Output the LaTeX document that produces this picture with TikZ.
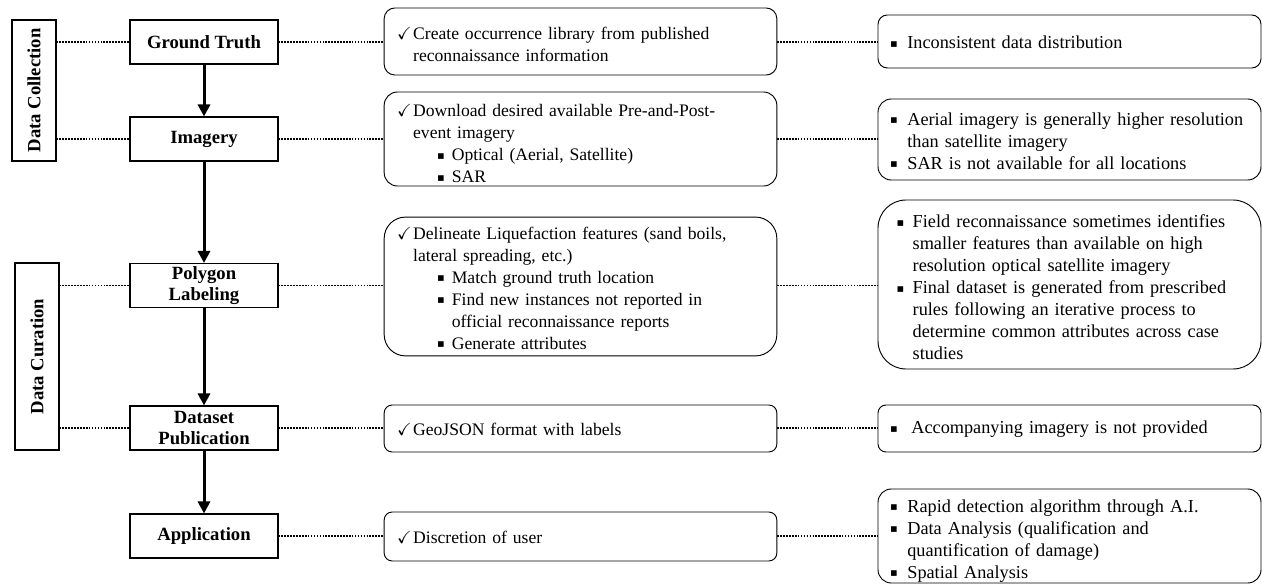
\documentclass[tikz,border=0pt]{standalone}
\usepackage{amssymb}
\usepackage{graphicx}
\usepackage{fontspec}
\setmainfont{Liberation Serif}
\newfontfamily\symfont{DejaVu Sans}
\usetikzlibrary{arrows.meta}

\newcommand{\sqmark}{\raisebox{0.9pt}{\symfont\fontsize{8.5}{8.5}\selectfont ▪}}
\newcommand{\lift}[1]{\par\kern#1}
\newenvironment{chklist}{\begin{list}{$\checkmark$}{\setlength{\leftmargin}{12pt}\setlength{\labelwidth}{12pt}\setlength{\labelsep}{0pt}\setlength{\topsep}{0pt}\setlength{\partopsep}{0pt}\setlength{\itemsep}{0pt}\setlength{\parsep}{0pt}\renewcommand{\makelabel}[1]{##1\hfil}}}{\end{list}}
\newenvironment{sublist}{\begin{list}{\sqmark}{\setlength{\leftmargin}{29pt}\setlength{\labelwidth}{11pt}\setlength{\labelsep}{0pt}\setlength{\topsep}{0pt}\setlength{\partopsep}{0pt}\setlength{\itemsep}{0pt}\setlength{\parsep}{0pt}\renewcommand{\makelabel}[1]{##1\hfil}}}{\end{list}}
\newenvironment{sqlist}[1][13pt]{\begin{list}{\sqmark}{\setlength{\leftmargin}{#1}\setlength{\labelwidth}{#1}\setlength{\labelsep}{0pt}\setlength{\topsep}{0pt}\setlength{\partopsep}{0pt}\setlength{\itemsep}{0pt}\setlength{\parsep}{0pt}\renewcommand{\makelabel}[1]{##1\hfil}}}{\end{list}}

\begin{document}
\begin{tikzpicture}[x=0.75pt,y=-0.75pt]
  \tikzstyle{phase} = [rectangle, draw=black, line width=0.8pt, minimum width=33pt, inner sep=0pt, font=\fontsize{14}{16}\selectfont\bfseries]
  \tikzstyle{stage} = [rectangle, draw=black, line width=0.8pt, minimum width=111pt, minimum height=33pt, align=center, inner sep=0pt, font=\fontsize{14}{16}\selectfont\bfseries]
  \tikzstyle{task} = [rectangle, draw=black, line width=0.7pt, text width=275pt, inner xsep=9.75pt, inner ysep=0pt, align=left, font=\fontsize{13.2}{16.5}\selectfont]
  \tikzstyle{note} = [rectangle, draw=black, line width=0.7pt, text width=269.25pt, inner xsep=9pt, inner ysep=0pt, align=left, font=\fontsize{13.7}{16.5}\selectfont]
  \tikzstyle{arrow} = [line width=2.25pt, -{Triangle[width=9pt,length=9pt]}]
  \tikzstyle{dots} = [line width=1.2pt, densely dotted]

  \useasboundingbox (0,0) rectangle (1262,584);

  \node (collect) [phase, minimum height=105.75pt] at (34,90.5) {\rotatebox{90}{Data Collection}};
  \node (curate) [phase, minimum height=140.25pt] at (37,356.5) {\rotatebox{90}{Data Curation}};

  \node (gt) [stage] at (204,42) {Ground Truth};
  \node (img) [stage] at (204,139) {Imagery};
  \node (poly) [stage] at (204,285.5) {Polygon\\Labeling};
  \node (pub) [stage] at (204,428) {Dataset\\Publication};
  \node (app) [stage] at (204,536) {Application};

  \draw [arrow] (gt) -- (img);
  \draw [arrow] (img) -- (poly);
  \draw [arrow] (poly) -- (pub);
  \draw [arrow] (pub) -- (app);

  \node (gttask) [task, minimum height=50.25pt, rounded corners=8pt] at (580.5,41.5) {\begin{chklist}
    \item Create occurrence library from published\newline reconnaissance information
  \end{chklist}\lift{3pt}};
  \node (imgtask) [task, minimum height=70.5pt, rounded corners=10pt] at (580.5,139) {\begin{chklist}
    \item Download desired available Pre-and-Post-\newline event imagery
    \begin{sublist}
      \item Optical (Aerial, Satellite)
      \item SAR
    \end{sublist}
  \end{chklist}};
  \node (polytask) [task, minimum height=99.75pt, rounded corners=16pt] at (580.5,286.5) {\begin{chklist}
    \item Delineate Liquefaction features (sand boils,\newline lateral spreading, etc.)
    \begin{sublist}
      \item Match ground truth location
      \item Find new instances not reported in\newline official reconnaissance reports
      \item Generate attributes
    \end{sublist}
  \end{chklist}\lift{5pt}};
  \node (pubtask) [task, minimum height=35.25pt, rounded corners=6pt] at (580.5,428.5) {\begin{chklist}
    \item GeoJSON format with labels
  \end{chklist}\lift{6pt}};
  \node (apptask) [task, minimum height=36.75pt, rounded corners=6pt] at (580.5,536.5) {\begin{chklist}
    \item Discretion of user
  \end{chklist}\lift{6pt}};

  \node (gtnote) [note, minimum height=39.75pt, rounded corners=7pt] at (1069.5,41.5) {\begin{sqlist}
    \item Inconsistent data distribution
  \end{sqlist}\lift{6pt}};
  \node (imgnote) [note, minimum height=60.75pt, rounded corners=10pt] at (1069.5,139.5) {\begin{sqlist}
    \item Aerial imagery is generally higher resolution\newline than satellite imagery
    \item SAR is not available for all locations
  \end{sqlist}\lift{5pt}};
  \node (polynote) [note, minimum height=126.75pt, rounded corners=21pt, text width=259.25pt, inner xsep=14pt] at (1069.5,284.5) {\begin{sqlist}[12pt]
    \item Field reconnaissance sometimes identifies\newline smaller features than available on high\newline resolution optical satellite imagery
    \item Final dataset is generated from prescribed\newline rules following an iterative process to\newline determine common attributes across case\newline studies
  \end{sqlist}\lift{3pt}};
  \node (pubnote) [note, minimum height=35.25pt, rounded corners=6pt] at (1069.5,428.5) {\begin{sqlist}[16pt]
    \item Accompanying imagery is not provided
  \end{sqlist}\lift{6pt}};
  \node (appnote) [note, minimum height=70.5pt, rounded corners=10pt] at (1069.5,536) {\begin{sqlist}
    \item Rapid detection algorithm through A.I.
    \item Data Analysis (qualification and\newline quantification of damage)
    \item Spatial Analysis
  \end{sqlist}};

  \draw [dots] (gt.west -| collect.east) -- (gt.west);
  \draw [dots] (img.west -| collect.east) -- (img.west);
  \draw [dots] (poly.west -| curate.east) -- (poly.west);
  \draw [dots] (pub.west -| curate.east) -- (pub.west);

  \draw [dots] (gt.east) -- (gt.east -| gttask.west);
  \draw [dots] (img.east) -- (img.east -| imgtask.west);
  \draw [dots] (poly.east) -- (poly.east -| polytask.west);
  \draw [dots] (pub.east) -- (pub.east -| pubtask.west);
  \draw [dots] (app.east) -- (app.east -| apptask.west);

  \draw [dots] (gttask.east |- gt.east) -- (gt.east -| gtnote.west);
  \draw [dots] (imgtask.east |- img.east) -- (img.east -| imgnote.west);
  \draw [dots] (polytask.east |- poly.east) -- (poly.east -| polynote.west);
  \draw [dots] (pubtask.east |- pub.east) -- (pub.east -| pubnote.west);
  \draw [dots] (apptask.east |- app.east) -- (app.east -| appnote.west);
\end{tikzpicture}
\end{document}
